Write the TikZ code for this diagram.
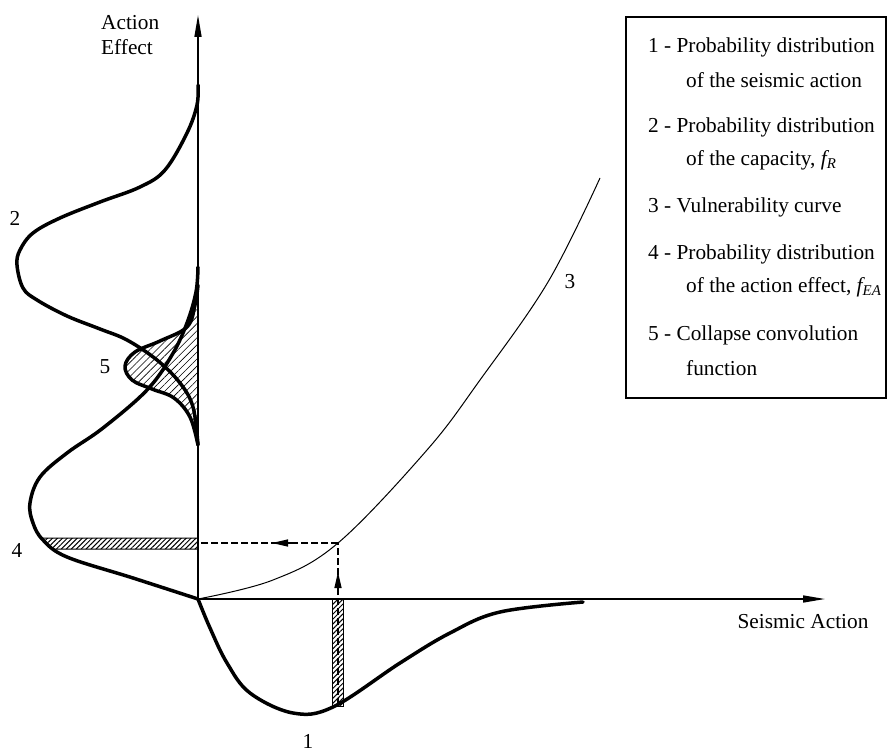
\documentclass[tikz,border=0pt]{standalone}
\usepackage{fontspec}
\setmainfont{Liberation Serif}
\usetikzlibrary{arrows.meta,patterns.meta}
\begin{document}
\begin{tikzpicture}[x=1pt,y=-1pt,
  font=\fontsize{21.3}{25}\selectfont,
  axis/.style={line width=1.5pt,-{Triangle[length=22pt,width=7pt]}},
  dist/.style={line width=3.5pt,line cap=round,line join=round},
  vuln/.style={line width=1pt},
  guide/.style={line width=1.3pt,dash pattern=on 7pt off 3pt},
  guidehead/.style={line width=1.3pt,-{Triangle[length=16pt,width=7pt]}},
  hatchbar/.style={pattern={Lines[angle=45,distance=3.5pt,line width=1pt]},draw,line width=1pt},
  hatcharea/.style={pattern={Lines[angle=45,distance=5pt,line width=0.6pt]}},
  lab/.style={inner sep=0pt},
  legend/.style={inner sep=0pt,anchor=west},
]
\useasboundingbox (0,0) rectangle (893,754);
\coordinate (O) at (198,599);
\coordinate (Ytop) at (198,15);
\coordinate (Xend) at (825,599);
\coordinate (P) at (338,543);
\coordinate (Pa) at (198,543);
\coordinate (Pb) at (338,705);
\coordinate (Ha0) at (292,543);
\coordinate (Ha1) at (272,543);
\coordinate (Hv0) at (338,588);
\coordinate (Hv1) at (338,572);

% hatched area 5
\fill[hatcharea] plot[smooth,tension=0.6] coordinates {(198,285) (195,305) (187,327) (160,341) (135,352) (125,366) (132,380) (152,389) (174,398) (190,417) (198,445)} -- cycle;

% hatched bars
\filldraw[hatchbar] (42,538) -- (198,538) -- (198,549) -- (53,549) -- cycle;
\filldraw[hatchbar] (332,599) rectangle (343,706);

% dashed guides
\draw[guide] (P) -- (Pa);
\draw[guide] (Pb) -- (P);
\draw[guidehead] (Ha0) -- (Ha1);
\draw[guidehead] (Hv0) -- (Hv1);

% vulnerability curve 3
\draw[vuln] plot[smooth,tension=0.6] coordinates {(198,599) (273,580) (338,543) (427,450) (480,380) (548,282) (600,178)};

% curve 1
\draw[dist] plot[smooth,tension=0.6] coordinates {(198,599) (210,628) (227,663) (250,693) (293,713) (333,707) (400,663) (450,633) (500,612) (583,602)};
% curve 2
\draw[dist] plot[smooth,tension=0.6] coordinates {(198,85) (197,105) (187,133) (165,170) (140,187) (100,202) (60,218) (33,233) (20,250) (17,265) (23,288) (37,300) (67,316) (100,329) (127,340) (157,360) (180,383) (193,407) (198,445)};
% curve 4
\draw[dist] plot[smooth,tension=0.6] coordinates {(198,599) (133,578) (67,557) (43,540) (33,523) (30,503) (40,477) (67,453) (103,428) (147,390) (172,355) (187,323) (196,292) (198,267)};
% curve 5
\draw[dist] plot[smooth,tension=0.6] coordinates {(198,285) (195,305) (187,327) (160,341) (135,352) (125,366) (132,380) (152,389) (174,398) (190,417) (198,445)};

% axes
\draw[axis] (O) -- (Ytop);
\draw[axis] (O) -- (Xend);

% labels
\node[lab,anchor=west] (ae1) at (101,23) {Action};
\node[lab,anchor=west] (ae2) at (101,47) {Effect};
\node[lab] (sa) at (803,622) {Seismic Action};
\node[lab] (l1) at (308,741) {1};
\node[lab] (l2) at (15,218) {2};
\node[lab] (l3) at (570,282) {3};
\node[lab] (l4) at (17,550) {4};
\node[lab] (l5) at (105,367) {5};

% legend
\draw[line width=1.5pt] (626,17) rectangle (886,398);
\node[legend] (g1a) at (648,47) {1 - Probability distribution};
\node[legend] (g1b) at (686,80) {of the seismic action};
\node[legend] (g2a) at (648,127) {2 - Probability distribution};
\node[legend] (g2b) at (686,160) {of the capacity, {\itshape f\textsubscript{R}}};
\node[legend] (g3) at (648,207) {3 - Vulnerability curve};
\node[legend] (g4a) at (648,254) {4 - Probability distribution};
\node[legend] (g4b) at (686,287) {of the action effect, {\itshape f\textsubscript{EA}}};
\node[legend] (g5a) at (648,335) {5 - Collapse convolution};
\node[legend] (g5b) at (686,368) {function};
\end{tikzpicture}
\end{document}
